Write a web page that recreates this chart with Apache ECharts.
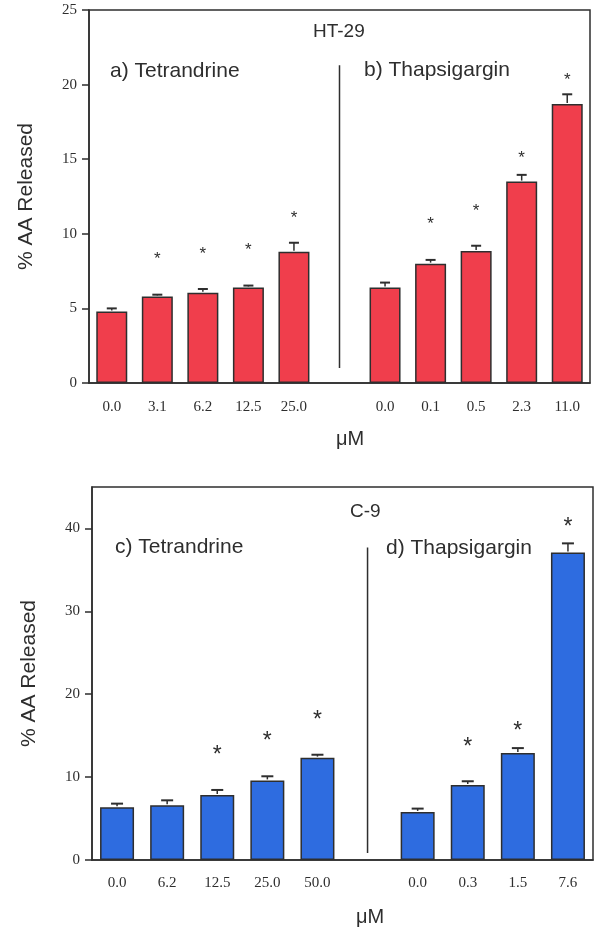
<!DOCTYPE html>
<html><head><meta charset="utf-8">
<script src="https://cdn.jsdelivr.net/npm/echarts@6/dist/echarts.min.js"></script>
<style>html,body{margin:0;padding:0;background:#fff}#c{width:600px;height:942px}</style>
</head><body><div id="c"></div>
<script>
// ---- data ----
const topTicks = ['0.0','3.1','6.2','12.5','25.0','','0.0','0.1','0.5','2.3','11.0'];
const topValues = [4.8, 5.8, 6.05, 6.4, 8.8, null, 6.4, 8.0, 8.85, 13.5, 18.7];
const topErrors = [0.2, 0.12, 0.25, 0.13, 0.6, null, 0.33, 0.25, 0.35, 0.45, 0.65];
const topStars  = [null, 8.6, 8.9, 9.15, 11.3, null, null, 10.9, 11.8, 15.35, 20.6];
const topDivider = [21.3, 1.0];
const topYTicks = [0, 5, 10, 15, 20, 25];

const botTicks = ['0.0','6.2','12.5','25.0','50.0','','0.0','0.3','1.5','7.6'];
const botValues = [6.35, 6.6, 7.85, 9.6, 12.35, null, 5.8, 9.05, 12.9, 37.1];
const botErrors = [0.45, 0.6, 0.6, 0.5, 0.35, null, 0.4, 0.45, 0.6, 1.1];
const botStars  = [null, null, 13.3, 15.0, 17.5, null, null, 14.3, 16.2, 40.8];
const botDivider = [37.7, 0.85];
const botYTicks = [0, 10, 20, 30, 40];

const yTitle = '% AA Released';
const xTitle = 'μM';

// ---- styles ----
const INK = '#2e2e2e';
const SERIF = '"Liberation Serif", "DejaVu Serif", serif';
const SANS = '"Liberation Sans", Arial, sans-serif';

function errData(vals, errs) {
  const out = [];
  vals.forEach((v, i) => { if (v != null) out.push([i, v, errs[i]]); });
  return out;
}
function starData(stars) {
  const out = [];
  stars.forEach((s, i) => { if (s != null) out.push([i, s]); });
  return out;
}
function errRender(capHalf) {
  return function (params, api) {
    const x = api.value(0), v = api.value(1), e = api.value(2);
    const p0 = api.coord([x, v]);
    const p1 = api.coord([x, v + e]);
    return {
      type: 'group',
      children: [
        { type: 'line', shape: { x1: p0[0], y1: p0[1] - 1, x2: p1[0], y2: p1[1] }, style: { stroke: INK, lineWidth: 1.5 } },
        { type: 'line', shape: { x1: p1[0] - capHalf, y1: p1[1], x2: p1[0] + capHalf, y2: p1[1] }, style: { stroke: INK, lineWidth: 2 } }
      ]
    };
  };
}
function starRender(size) {
  return function (params, api) {
    const p = api.coord([api.value(0), api.value(1)]);
    return {
      type: 'text',
      x: p[0], y: p[1] + size * 0.25,
      style: { text: '*', fontSize: size, fontFamily: SANS, fill: INK, align: 'center', verticalAlign: 'middle' }
    };
  };
}
function divRender(params, api) {
  const a = api.coord([api.value(0), api.value(1)]);
  const b = api.coord([api.value(0), api.value(2)]);
  return { type: 'line', shape: { x1: a[0], y1: a[1], x2: b[0], y2: b[1] }, style: { stroke: INK, lineWidth: 1.5 } };
}

function xAxisCfg(ticks, gi, margin) {
  return {
    type: 'category', gridIndex: gi, data: ticks,
    axisLine: { lineStyle: { color: INK, width: 1.5 } },
    axisTick: { alignWithLabel: true, length: 7, lineStyle: { color: INK, width: 1.5 } },
    axisLabel: { interval: 0, margin: margin, fontFamily: SERIF, fontSize: 15, color: INK },
    splitLine: { show: false }
  };
}
function yAxisCfg(max, interval, ticks, gi) {
  return {
    type: 'value', gridIndex: gi, min: 0, max: max, interval: interval,
    name: yTitle, nameLocation: 'middle', nameGap: 52,
    nameTextStyle: { fontFamily: SANS, fontSize: 21, color: INK },
    axisLine: { show: true, lineStyle: { color: INK, width: 1.5 } },
    axisTick: { show: true, length: 7, customValues: ticks, lineStyle: { color: INK, width: 1.5 } },
    axisLabel: { margin: 12, customValues: ticks, fontFamily: SERIF, fontSize: 15, color: INK },
    splitLine: { show: false }
  };
}

const option = {
  backgroundColor: '#fff',
  animation: false,
  grid: [
    { left: 89, top: 10, width: 501, height: 373, show: true, borderColor: INK, borderWidth: 1.5, backgroundColor: 'transparent' },
    { left: 92, top: 487, width: 501, height: 373, show: true, borderColor: INK, borderWidth: 1.5, backgroundColor: 'transparent' }
  ],
  xAxis: [xAxisCfg(topTicks, 0, 17), xAxisCfg(botTicks, 1, 16)],
  yAxis: [yAxisCfg(25, 5, topYTicks, 0), yAxisCfg(45, 10, botYTicks, 1)],
  series: [
    { type: 'bar', xAxisIndex: 0, yAxisIndex: 0, data: topValues, barWidth: 31,
      itemStyle: { color: '#f03e4c', borderColor: INK, borderWidth: 1.5 } },
    { type: 'custom', xAxisIndex: 0, yAxisIndex: 0, data: errData(topValues, topErrors), renderItem: errRender(5), z: 5 },
    { type: 'custom', xAxisIndex: 0, yAxisIndex: 0, data: starData(topStars), renderItem: starRender(17), z: 5 },
    { type: 'custom', xAxisIndex: 0, yAxisIndex: 0, data: [[5, topDivider[0], topDivider[1]]], renderItem: divRender, z: 5 },

    { type: 'bar', xAxisIndex: 1, yAxisIndex: 1, data: botValues, barWidth: 34,
      itemStyle: { color: '#2e6ce0', borderColor: INK, borderWidth: 1.5 } },
    { type: 'custom', xAxisIndex: 1, yAxisIndex: 1, data: errData(botValues, botErrors), renderItem: errRender(6), z: 5 },
    { type: 'custom', xAxisIndex: 1, yAxisIndex: 1, data: starData(botStars), renderItem: starRender(23), z: 5 },
    { type: 'custom', xAxisIndex: 1, yAxisIndex: 1, data: [[5, botDivider[0], botDivider[1]]], renderItem: divRender, z: 5 }
  ],
  graphic: [
    { type: 'text', left: 313, top: 22, style: { text: 'HT-29', fontFamily: SANS, fontSize: 19, fill: INK } },
    { type: 'text', left: 110, top: 61, style: { text: 'a) Tetrandrine', fontFamily: SANS, fontSize: 21, fill: INK } },
    { type: 'text', left: 364, top: 60, style: { text: 'b) Thapsigargin', fontFamily: SANS, fontSize: 21, fill: INK } },
    { type: 'text', left: 336, top: 429, style: { text: xTitle, fontFamily: SANS, fontSize: 20, fill: INK } },
    { type: 'text', left: 350, top: 502, style: { text: 'C-9', fontFamily: SANS, fontSize: 19, fill: INK } },
    { type: 'text', left: 115, top: 537, style: { text: 'c) Tetrandrine', fontFamily: SANS, fontSize: 21, fill: INK } },
    { type: 'text', left: 386, top: 538, style: { text: 'd) Thapsigargin', fontFamily: SANS, fontSize: 21, fill: INK } },
    { type: 'text', left: 356, top: 907, style: { text: xTitle, fontFamily: SANS, fontSize: 20, fill: INK } }
  ]
};
const chart = echarts.init(document.getElementById('c'), null, { renderer: 'canvas' });
chart.setOption(option);
</script></body></html>
